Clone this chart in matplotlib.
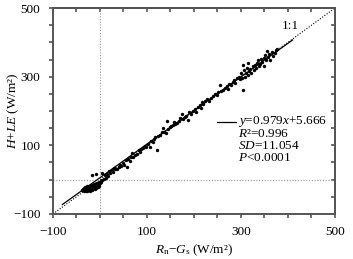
import numpy as np
import matplotlib
matplotlib.use("Agg")
import matplotlib.pyplot as plt
from matplotlib.ticker import MultipleLocator, FixedLocator

# fonts: Times-like serif everywhere, including math
plt.rcParams['font.family'] = ['Liberation Serif', 'DejaVu Serif']
plt.rcParams['mathtext.fontset'] = 'custom'
plt.rcParams['mathtext.rm'] = 'Liberation Serif'
plt.rcParams['mathtext.it'] = 'Liberation Serif:italic'

rn_gs = [-38, -36, -35, -34, -33, -32, -31, -30, -30, -29, -28, -27, -27, -26, -25, -25,
         -24, -23, -22, -22, -21, -20, -20, -19, -18, -17, -17, -16, -15, -14, -14, -13,
         -12, -11, -10, -10, -9, -8, -7, -6, -5, -4, -3, -2, -1, 0, 1, 2, 3, -17, -8, 5, 4,
         8, 10, 12, 15, 18, 20, 22, 25, 28, 30, 33, 36, 40, 42, 45, 50, 52, 55, 57, 60,
         63, 66, 68, 70, 74, 78, 82, 85, 88, 92, 95, 98,
         102, 106, 108, 112, 115, 118, 121, 124, 128, 132, 134, 137, 140, 142, 145, 148,
         152, 155, 158, 160, 164, 168, 170, 174, 176, 180, 184, 187, 190, 194, 198,
         202, 205, 208, 212, 215, 218, 220, 224, 228, 232, 236, 240, 244, 248, 252, 255,
         258, 262, 266, 270, 272, 275, 278, 282, 285, 288, 292, 295, 298,
         300, 302, 304, 304, 306, 308, 310, 312, 314, 315, 318, 320, 322, 325, 328, 330,
         332, 335, 336, 338, 340, 342, 345, 348, 350, 351, 354, 355, 358, 360, 362, 366,
         368, 372, 377, 374]
h_le = [-30, -27, -33, -25, -29, -31, -22, -27, -34, -24, -29, -20, -32, -26, -23, -30,
        -18, -27, -22, -33, -25, -19, -29, -23, -27, -16, -21, -30, -24, -19, -26, -14,
        -22, -28, -18, -12, -24, -16, -20, -10, -15, -22, -8, -13, -18, -6, -11, -3, -8, 13, 16, 19, -1,
        2, 12, 6, 15, 10, 24, 18, 27, 22, 35, 30, 32, 38, 44, 40, 48, 42, 56, 37, 60,
        55, 66, 78, 65, 72, 75, 86, 80, 90, 92, 97, 94,
        104, 95, 112, 110, 118, 125, 86, 128, 130, 138, 150, 140, 137, 171, 148, 152,
        155, 158, 168, 162, 165, 172, 180, 191, 176, 182, 186, 174, 196, 192, 200,
        205, 198, 212, 218, 210, 226, 220, 228, 236, 230, 238, 244, 250, 246, 254, 275,
        258, 262, 268, 272, 264, 280, 275, 284, 290, 282, 296, 300, 292,
        310, 296, 334, 261, 318, 300, 312, 326, 305, 340, 316, 322, 310, 330, 318, 335,
        324, 340, 348, 330, 338, 352, 342, 332, 355, 363, 348, 375, 356, 366, 350, 372,
        360, 368, 380, 378]

ticks = [-100, 100, 300, 500]

# fit reported on the chart
slope = 0.979
intercept = 5.666
stats = ["$R$\u00b2=0.996", "$SD$=11.054", "$P$<0.0001"]

fs = 9.5
gray = '#555555'

fig = plt.figure(figsize=(3.53, 2.59), dpi=100)
ax = fig.add_axes([0.150, 0.174, 0.799, 0.795])

# reference lines
ax.plot([-100, 500], [-100, 500], color='black', lw=0.8, ls=(0, (1, 1.5)))
ax.axvline(0, color='#999999', lw=0.8, ls=(0, (1, 1.5)))
ax.axhline(0, color='#999999', lw=0.8, ls=(0, (1, 1.5)))

# regression line and points
xf = np.array([-80, 410])
ax.plot(xf, slope * xf + intercept, color='black', lw=0.9)
ax.scatter(rn_gs, h_le, s=6, color='black', linewidths=0, zorder=3)

ax.text(405, 448, "1:1", fontsize=fs, ha='center', va='center')

# legend-like annotation
ax.plot([0.58, 0.65], [0.447, 0.447], color='black', lw=0.9, transform=ax.transAxes)
ax.text(0.655, 0.447, "$y$=0.979$x$+5.666", fontsize=fs, va='center', transform=ax.transAxes)
for i, s in enumerate(stats):
    ax.text(0.655, 0.388 - i * 0.058, s, fontsize=fs, va='center', transform=ax.transAxes)

ax.set_xlim(-100, 500)
ax.set_ylim(-100, 500)
ax.xaxis.set_major_locator(FixedLocator(ticks))
ax.yaxis.set_major_locator(FixedLocator(ticks))
ax.xaxis.set_minor_locator(MultipleLocator(50))
ax.yaxis.set_minor_locator(MultipleLocator(50))
ax.tick_params(which='both', direction='out', top=False, right=False, colors=gray,
               labelcolor='black', labelsize=fs, width=1.2, length=3, pad=6)

# inward ticks on top and right
ax_t = ax.secondary_xaxis('top')
ax_t.xaxis.set_major_locator(MultipleLocator(50))
ax_t.tick_params(direction='in', length=3, width=1.2, colors=gray, labeltop=False)
ax_r = ax.secondary_yaxis('right')
ax_r.yaxis.set_major_locator(MultipleLocator(50))
ax_r.tick_params(direction='in', length=3, width=1.2, colors=gray, labelright=False)

for sp in ax.spines.values():
    sp.set_color(gray)
    sp.set_linewidth(1.4)
for sec in (ax_t, ax_r):
    for sp in sec.spines.values():
        sp.set_color(gray)
        sp.set_linewidth(1.4)

ax.set_xlabel("$R_\\mathrm{n}$\u2212$G_\\mathrm{s}$ (W/m\u00b2)", fontsize=fs, labelpad=3)
ax.set_ylabel("$H$+$LE$ (W/m\u00b2)", fontsize=fs)
ax.yaxis.set_label_coords(-0.112, 0.5)

fig.savefig("out.png", dpi=100)
